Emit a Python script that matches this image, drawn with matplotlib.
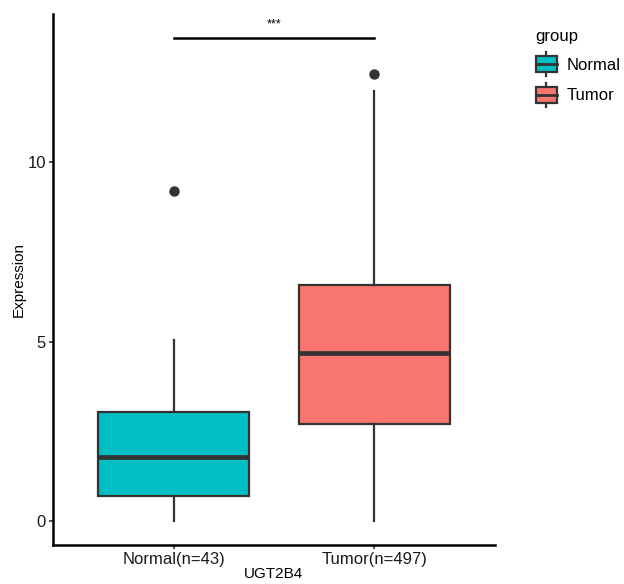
import matplotlib

matplotlib.use("Agg")
import matplotlib.pyplot as plt
from matplotlib.legend_handler import HandlerBase
from matplotlib.patches import Rectangle
from matplotlib.lines import Line2D

plt.rcParams["font.family"] = ["Liberation Sans", "DejaVu Sans"]

groups = ["Normal", "Tumor"]
tick_labels = ["Normal(n=43)", "Tumor(n=497)"]
colors = ["#00BFC4", "#F8766D"]
whislo = [0.0, 0.0]
q1 = [0.72, 2.72]
med = [1.78, 4.67]
q3 = [3.03, 6.56]
whishi = [5.03, 11.97]
fliers = [[9.19], [12.42]]
bracket_y = 13.42
sig_label = "***"

EDGE = "#333333"


class BoxHandler(HandlerBase):
    def create_artists(self, legend, orig_handle, xdescent, ydescent, width, height, fontsize, trans):
        w = width * 0.95
        x0 = xdescent + (width - w) / 2
        y0 = -ydescent + height * 0.12
        h = height * 0.76
        rect = Rectangle((x0, y0), w, h, facecolor=orig_handle.get_facecolor(),
                         edgecolor=EDGE, lw=1.6, transform=trans)
        mid = Line2D([x0, x0 + w], [y0 + h / 2] * 2, color=EDGE, lw=2.0, transform=trans)
        vert = Line2D([x0 + w / 2] * 2, [-ydescent - height * 0.05, -ydescent + height * 1.05],
                      color=EDGE, lw=1.6, transform=trans)
        return [vert, rect, mid]


fig = plt.figure(figsize=(6.24, 5.84), dpi=100)
ax = fig.add_axes([0.085, 0.067, 0.708, 0.909])

stats = []
for i, g in enumerate(groups):
    stats.append(dict(label=tick_labels[i], whislo=whislo[i], q1=q1[i], med=med[i],
                      q3=q3[i], whishi=whishi[i], fliers=fliers[i]))

bp = ax.bxp(stats, positions=[1, 2], widths=0.75, patch_artist=True, showcaps=False,
            boxprops=dict(edgecolor=EDGE, linewidth=1.6),
            whiskerprops=dict(color=EDGE, linewidth=1.6),
            medianprops=dict(color=EDGE, linewidth=3.4),
            flierprops=dict(marker="o", markerfacecolor=EDGE, markeredgecolor=EDGE, markersize=6.5))
for patch, c in zip(bp["boxes"], colors):
    patch.set_facecolor(c)

ax.plot([1, 2], [bracket_y, bracket_y], color="black", lw=1.8)
ax.text(1.5, bracket_y + 0.22, sig_label, ha="center", va="bottom", fontsize=9)

ax.set_xlim(0.4, 2.6)
ax.set_ylim(-0.65, 14.1)
ax.set_yticks([0, 5, 10])
ax.set_xticks([1, 2])
ax.set_xticklabels(tick_labels)
ax.tick_params(axis="both", labelsize=12, color=EDGE, length=3, width=1.2, labelcolor="#1a1a1a", pad=2)
ax.set_ylabel("Expression", fontsize=11, labelpad=1)
ax.set_xlabel("UGT2B4", fontsize=11, labelpad=0)
for side in ["top", "right"]:
    ax.spines[side].set_visible(False)
for side in ["left", "bottom"]:
    ax.spines[side].set_linewidth(1.8)

handles = [Rectangle((0, 0), 1, 1, facecolor=c) for c in colors]
leg = fig.legend(handles, groups, title="group", loc="upper left", bbox_to_anchor=(0.842, 0.967),
                 frameon=False, fontsize=12, title_fontsize=12, handler_map={Rectangle: BoxHandler()},
                 handlelength=1.3, handleheight=1.6, handletextpad=0.6, labelspacing=0.55,
                 borderaxespad=0.2)
leg._legend_box.align = "left"

fig.savefig("out.png")
